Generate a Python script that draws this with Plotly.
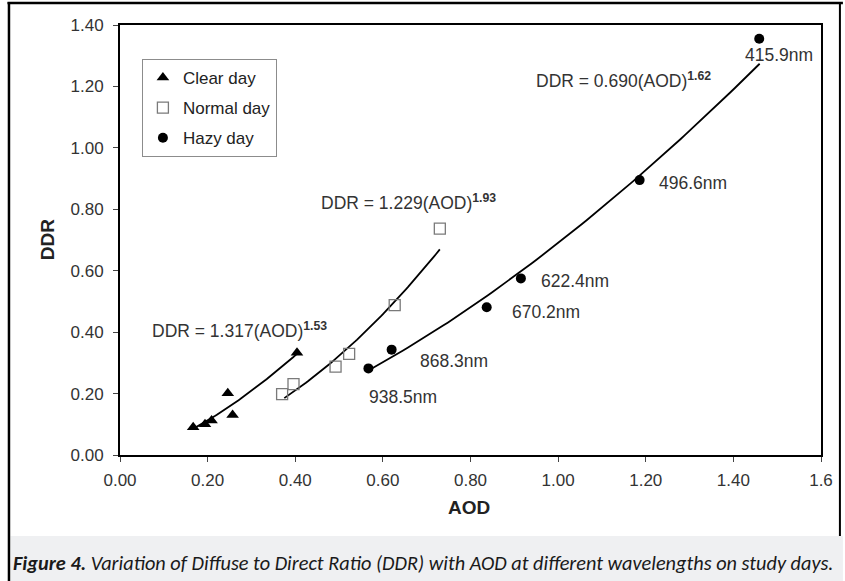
import plotly.graph_objects as go
import numpy as np

# ---------------- data ----------------
clear_aod = [0.167, 0.194, 0.209, 0.246, 0.257, 0.404]
clear_ddr = [0.090, 0.100, 0.112, 0.201, 0.130, 0.333]

normal_aod = [0.370, 0.396, 0.492, 0.523, 0.627, 0.730]
normal_ddr = [0.198, 0.231, 0.288, 0.329, 0.488, 0.737]

hazy_aod = [0.567, 0.620, 0.837, 0.915, 1.186, 1.459]
hazy_ddr = [0.282, 0.343, 0.481, 0.575, 0.895, 1.355]
hazy_labels = ["938.5nm", "868.3nm", "670.2nm", "622.4nm", "496.6nm", "415.9nm"]

# power-law fits DDR = a * AOD^b  (from the equations printed on the chart)
fit_names = ["clear", "normal", "hazy"]
fit_a = [1.317, 1.229, 0.690]
fit_b = [1.53, 1.93, 1.62]
fit_start = [0.170, 0.375, 0.567]
fit_end = [0.404, 0.730, 1.460]

x_tickvals = [0, 0.2, 0.4, 0.6, 0.8, 1.0, 1.2, 1.4, 1.6]
x_ticktext = ["0.00", "0.20", "0.40", "0.60", "0.80", "1.00", "1.20", "1.40", "1.6"]
y_tickvals = [0, 0.2, 0.4, 0.6, 0.8, 1.0, 1.2, 1.4]
y_ticktext = ["0.00", "0.20", "0.40", "0.60", "0.80", "1.00", "1.20", "1.40"]

caption_bold = "Figure 4."
caption_rest = " Variation of Diffuse to Direct Ratio (DDR) with AOD at different wavelengths on study days."

# ---------------- figure ----------------
W, H = 845, 581
L, R, T, B = 120, 21, 25, 126
pw, ph = W - L - R, H - T - B

def px(x):
    return (x - L) / pw

def py(y):
    return (H - B - y) / ph

FONT = "Liberation Sans, Arial, sans-serif"
TXT = "#333333"

fig = go.Figure()

for a, b, s, e in zip(fit_a, fit_b, fit_start, fit_end):
    xs = np.linspace(s, e, 80)
    fig.add_trace(go.Scatter(x=xs, y=a * xs ** b, mode="lines",
                             line=dict(color="black", width=1.8),
                             showlegend=False, hoverinfo="skip"))

fig.add_trace(go.Scatter(x=clear_aod, y=clear_ddr, mode="markers", name="Clear day",
                         legendgroup="g1",
                         marker=dict(symbol="triangle-up", size=11, color="black")))
fig.add_trace(go.Scatter(x=normal_aod, y=normal_ddr, mode="markers", name="Normal day",
                         legendgroup="g2",
                         marker=dict(symbol="square-open", size=11, color="#7a7a7a",
                                     line=dict(width=1.3, color="#7a7a7a"))))
fig.add_trace(go.Scatter(x=hazy_aod, y=hazy_ddr, mode="markers", name="Hazy day",
                         legendgroup="g3",
                         marker=dict(symbol="circle", size=10, color="black")))

# wavelength labels (offsets in pixels from their points)
label_shift = {"938.5nm": (35, -29), "868.3nm": (62, -11), "670.2nm": (59, -5),
               "622.4nm": (54, -3), "496.6nm": (53, -3), "415.9nm": (20, -16)}
for xa, ya, lab in zip(hazy_aod, hazy_ddr, hazy_labels):
    dx, dy = label_shift[lab]
    fig.add_annotation(x=xa, y=ya, text=lab, showarrow=False, xshift=dx, yshift=dy,
                       font=dict(family=FONT, size=17.5, color=TXT))

# equations
eq_pos = [(0.273, 0.407), (0.659, 0.824), (1.150, 1.221)]
for (ex, ey), a, b in zip(eq_pos, fit_a, fit_b):
    fig.add_annotation(x=ex, y=ey, showarrow=False,
                       text=f"DDR = {a:.3f}(AOD)<sup><b>{b:.2f}</b></sup>",
                       font=dict(family=FONT, size=17.5, color=TXT))

# axis titles
fig.add_annotation(xref="paper", yref="paper", x=px(470), y=py(508), showarrow=False,
                   xanchor="center", yanchor="middle",
                   text="<b>AOD</b>", font=dict(family=FONT, size=19, color="#222"))
fig.add_annotation(xref="paper", yref="paper", x=px(47), y=py(240), showarrow=False,
                   xanchor="center", yanchor="middle",
                   text="<b>DDR</b>", textangle=-90, font=dict(family=FONT, size=19, color="#222"))

# outer frame and caption band
fig.add_shape(type="rect", xref="paper", yref="paper", x0=px(10), x1=px(846),
              y0=py(536), y1=py(582), fillcolor="#eff0f2", line=dict(width=0), layer="below")
fig.add_shape(type="line", xref="paper", yref="paper", x0=px(8.5), x1=px(8.5),
              y0=py(2), y1=py(582), line=dict(color="black", width=2.5))
fig.add_shape(type="line", xref="paper", yref="paper", x0=px(7), x1=px(846),
              y0=py(3), y1=py(3), line=dict(color="black", width=2.5))
fig.add_shape(type="line", xref="paper", yref="paper", x0=px(843), x1=px(843),
              y0=py(2), y1=py(536), line=dict(color="black", width=2))

fig.add_annotation(xref="paper", yref="paper", x=px(11), y=py(563),
                   xanchor="left", yanchor="middle",
                   showarrow=False,
                   text=f"<b><i>{caption_bold}</i></b><i>{caption_rest}</i>",
                   font=dict(family="Carlito, Lato, sans-serif", size=20.3, color="#1a1a1a"))

fig.update_layout(
    width=W, height=H,
    margin=dict(l=L, r=R, t=T, b=B),
    paper_bgcolor="white", plot_bgcolor="white",
    font=dict(family=FONT, size=17, color=TXT),
    showlegend=True,
    legend=dict(x=px(142), y=py(59), xanchor="left", yanchor="top",
                bgcolor="white", bordercolor="#8c8c8c", borderwidth=1,
                font=dict(family=FONT, size=17, color="#222"),
                traceorder="grouped", tracegroupgap=5),
    xaxis=dict(range=[0, 1.6], tickvals=x_tickvals, ticktext=x_ticktext,
               showgrid=False, zeroline=False, showline=True, linecolor="black",
               linewidth=2, mirror=True, ticks="outside", ticklen=5, tickcolor="#444",
               ticklabelstandoff=4,
               tickfont=dict(family=FONT, size=17, color=TXT)),
    yaxis=dict(range=[0, 1.4], tickvals=y_tickvals, ticktext=y_ticktext,
               showgrid=False, zeroline=False, showline=True, linecolor="black",
               linewidth=2, mirror=True, ticks="outside", ticklen=5, tickcolor="#444",
               ticklabelstandoff=6,
               tickfont=dict(family=FONT, size=17, color=TXT)),
)

fig.write_html("out.html", config={"displayModeBar": False},
               post_script="document.body.style.margin='0';document.body.style.overflow='hidden';")
